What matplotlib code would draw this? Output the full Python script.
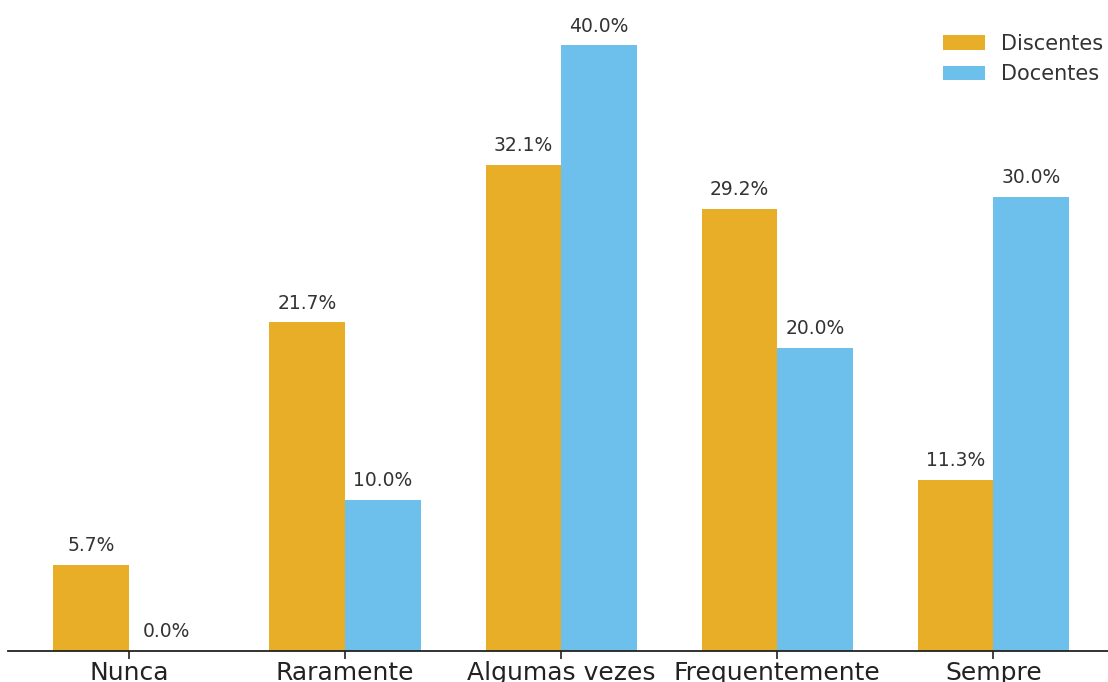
import matplotlib.pyplot as plt
import numpy as np

categorias = ['Nunca', 'Raramente', 'Algumas vezes', 'Frequentemente', 'Sempre']
discentes = [5.7, 21.7, 32.1, 29.2, 11.3]
docentes = [0.0, 10.0, 40.0, 20.0, 30.0]

cor_disc = '#E8AE27'
cor_doc = '#6EC0EC'

fig = plt.figure(figsize=(11.08, 6.82), dpi=100)
ax = fig.add_axes([8 / 1108, 31 / 682, 1100 / 1108, 651 / 682])

x = np.arange(len(categorias))
w = 0.35
b1 = ax.bar(x - w / 2, discentes, w, color=cor_disc, label='Discentes')
b2 = ax.bar(x + w / 2, docentes, w, color=cor_doc, label='Docentes')

for barras in (b1, b2):
    for r in barras:
        h = r.get_height()
        ax.annotate(f'{h:.1f}%', (r.get_x() + r.get_width() / 2, h),
                    xytext=(0, 7), textcoords='offset points',
                    ha='center', va='bottom', fontsize=13.5, color='#333333')

ax.set_xlim(-0.56, 4.53)
ax.set_ylim(0, 43)
ax.set_xticks(x)
ax.set_xticklabels(categorias, fontsize=18, color='#222222')
ax.set_yticks([])
for s in ['top', 'right', 'left']:
    ax.spines[s].set_visible(False)
ax.spines['bottom'].set_color('#222222')
ax.spines['bottom'].set_linewidth(1.3)
ax.tick_params(axis='x', length=6, width=1.2, color='#222222', pad=1)

leg = ax.legend(loc='upper right', frameon=False, fontsize=15,
                bbox_to_anchor=(1.013, 0.977), handlelength=2.0, handleheight=0.7)
for t in leg.get_texts():
    t.set_color('#333333')

fig.savefig('out.png', dpi=100)
